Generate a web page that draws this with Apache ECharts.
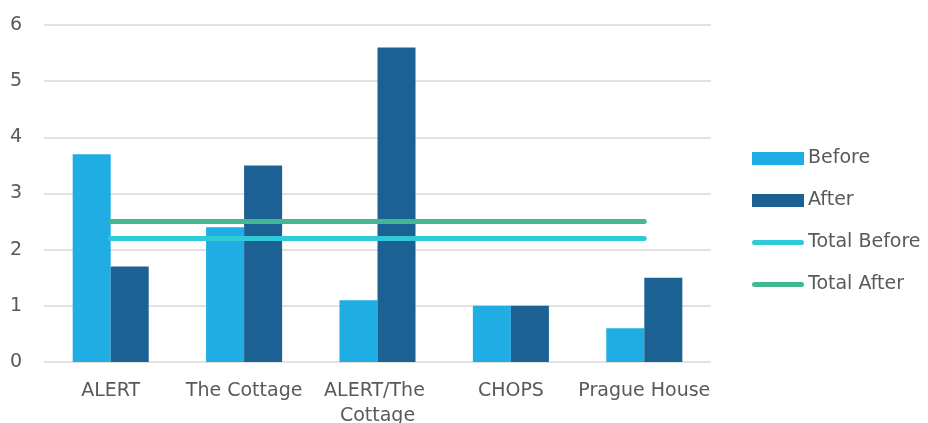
<!DOCTYPE html>
<html>
<head>
<meta charset="utf-8">
<script src="https://cdn.jsdelivr.net/npm/echarts@6/dist/echarts.min.js"></script>
<style>
  html, body { margin: 0; padding: 0; background: #ffffff; }
  #chart { width: 928px; height: 423px; }
</style>
</head>
<body>
<div id="chart"></div>
<script>
// Programme sites and their scores before / after
const categories = ['ALERT', 'The Cottage', 'ALERT/The Cottage', 'CHOPS', 'Prague House'];
const beforeValues = [3.7, 2.4, 1.1, 1.0, 0.6];
const afterValues = [1.7, 3.5, 5.6, 1.0, 1.5];
const totalBefore = [2.2, 2.2, 2.2, 2.2, 2.2];
const totalAfter = [2.5, 2.5, 2.5, 2.5, 2.5];
const yTicks = { min: 0, max: 6, interval: 1 };

const FONT = 'DejaVu Sans';
const TEXT = '#595959';
// thin rounded bar used as the legend marker for the total lines
const LINE_ICON = 'path://M2.5,0 H49.5 A2.5,2.5 0 0 1 49.5,5 H2.5 A2.5,2.5 0 0 1 2.5,0 Z';

const chart = echarts.init(document.getElementById('chart'), null, { renderer: 'canvas' });
chart.setOption({
  animation: false,
  textStyle: { fontFamily: FONT },
  grid: { left: 44, right: 217, top: 25, bottom: 61, containLabel: false, outerBoundsMode: 'none' },
  legend: {
    orient: 'vertical',
    left: 752,
    top: 147,
    padding: 0,
    itemWidth: 52,
    itemHeight: 13,
    itemGap: 19,
    symbolKeepAspect: true,
    textStyle: { fontFamily: FONT, fontSize: 19, color: TEXT, padding: [0, 0, 0, -1], lineHeight: 23 },
    data: [
      { name: 'Before', icon: 'rect' },
      { name: 'After', icon: 'rect' },
      { name: 'Total Before', icon: LINE_ICON },
      { name: 'Total After', icon: LINE_ICON }
    ]
  },
  xAxis: {
    type: 'category',
    data: categories,
    axisLine: { show: false },
    axisTick: { show: false },
    axisLabel: {
      interval: 0,
      margin: 17,
      color: TEXT,
      fontFamily: FONT,
      fontSize: 19,
      lineHeight: 25,
      width: 150,
      overflow: 'break'
    }
  },
  yAxis: {
    type: 'value',
    min: yTicks.min,
    max: yTicks.max,
    interval: yTicks.interval,
    axisLine: { show: false },
    axisTick: { show: false },
    axisLabel: { color: TEXT, fontFamily: FONT, fontSize: 19, margin: 22 },
    splitLine: { lineStyle: { color: '#d9d9d9', width: 1.5 } }
  },
  series: [
    {
      name: 'Before',
      type: 'bar',
      data: beforeValues,
      barGap: '0%',
      barCategoryGap: '43%',
      itemStyle: { color: '#1FADE4' },
      z: 2
    },
    {
      name: 'After',
      type: 'bar',
      data: afterValues,
      itemStyle: { color: '#1C6194' },
      z: 2
    },
    {
      name: 'Total Before',
      type: 'line',
      data: totalBefore,
      symbol: 'none',
      lineStyle: { color: '#2ECAD8', width: 5, cap: 'round' },
      itemStyle: { color: '#2ECAD8' },
      z: 5
    },
    {
      name: 'Total After',
      type: 'line',
      data: totalAfter,
      symbol: 'none',
      lineStyle: { color: '#44B894', width: 5, cap: 'round' },
      itemStyle: { color: '#44B894' },
      z: 5
    }
  ]
});
</script>
</body>
</html>
